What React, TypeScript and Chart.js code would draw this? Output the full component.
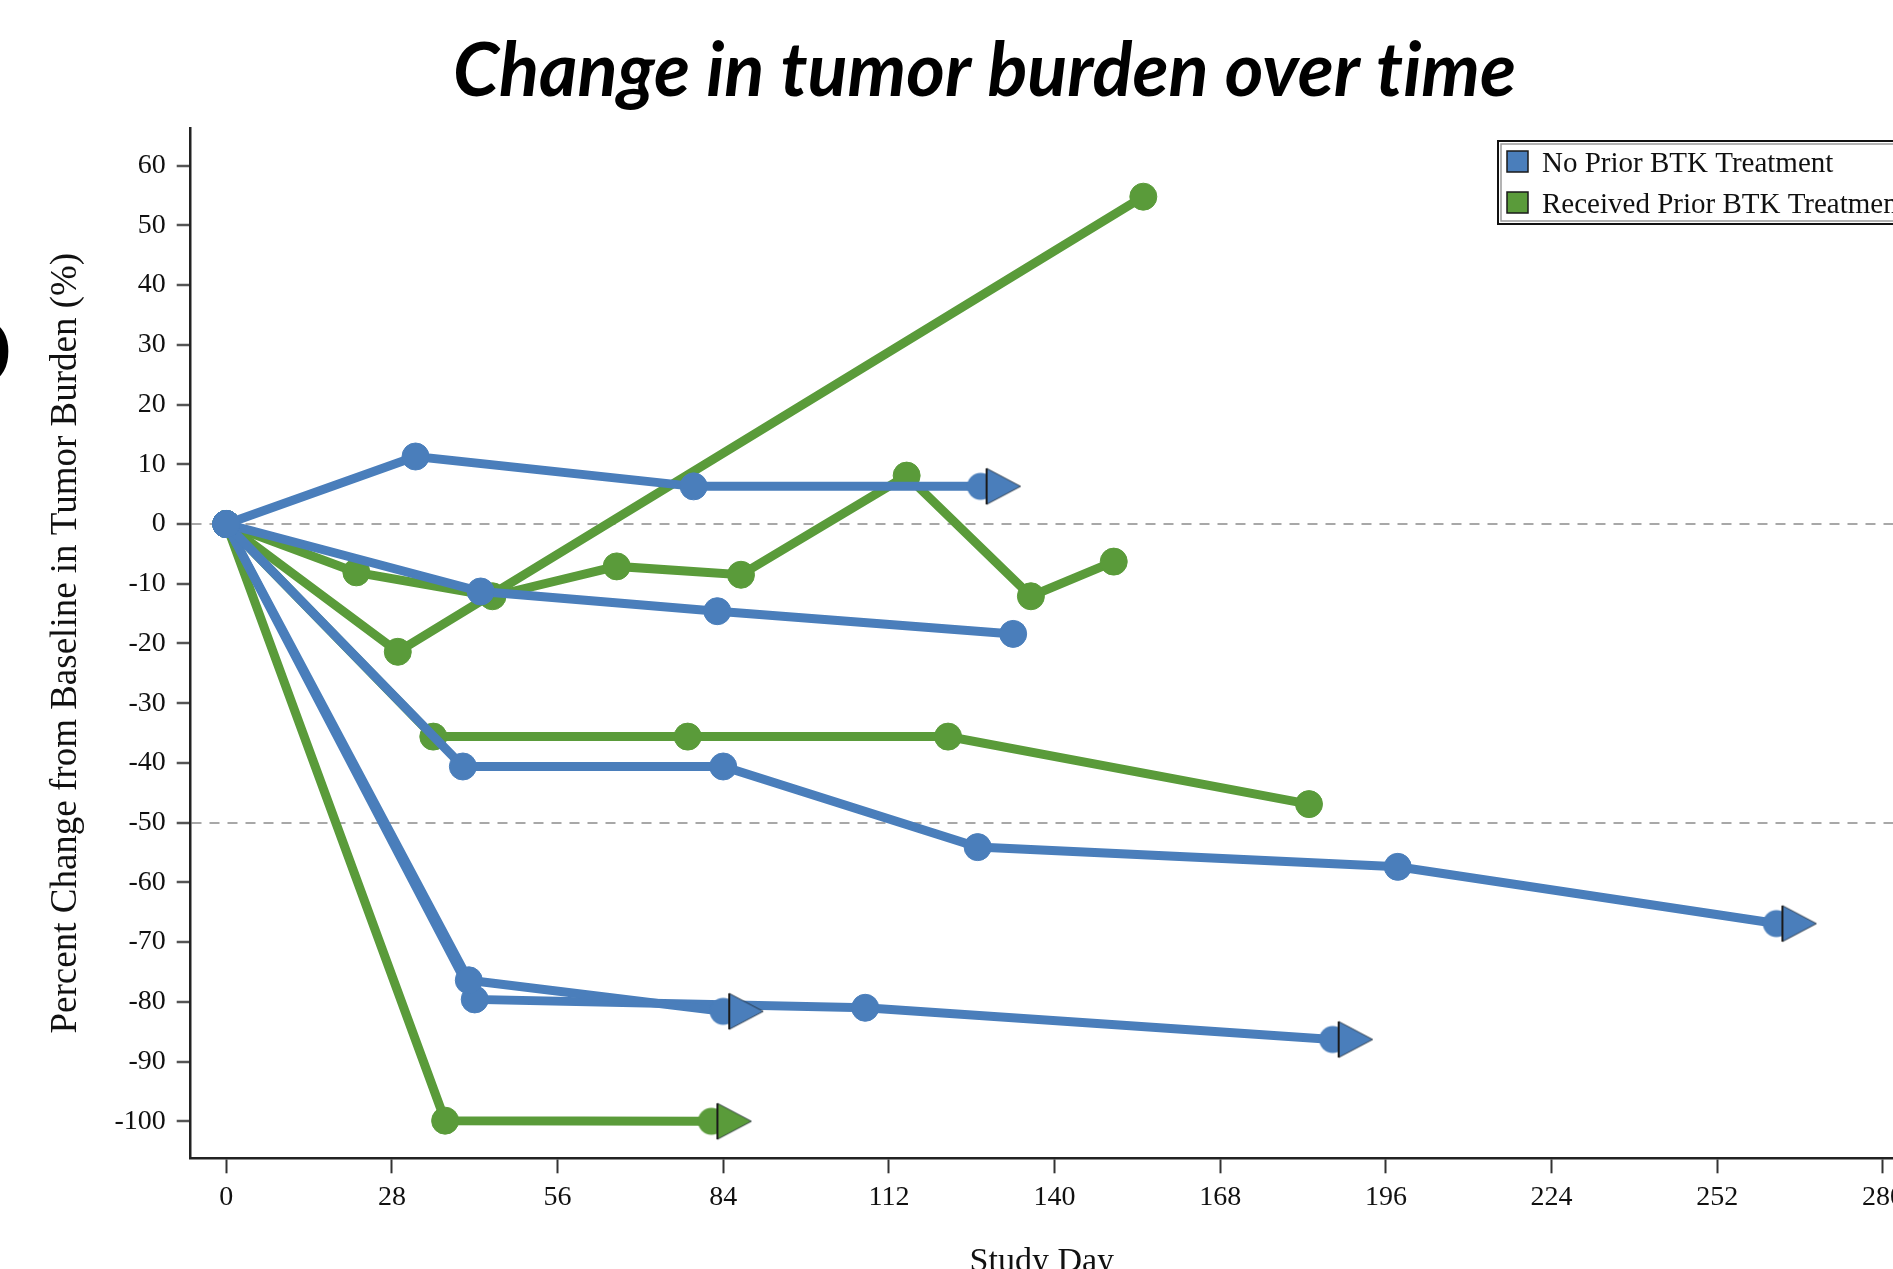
import React, { useEffect, useRef } from "react";
import { Chart, registerables } from "chart.js";

Chart.register(...registerables);

// ---------- data ----------
const chartTitle = "Change in tumor burden over time";
const yAxisTitle = "Percent Change from Baseline in Tumor Burden (%)";
const xAxisTitle = "Study Day";
const legendLabels = ["No Prior BTK Treatment", "Received Prior BTK Treatment"];

const xTicks = [0, 28, 56, 84, 112, 140, 168, 196, 224, 252, 280];
const yTicks = [60, 50, 40, 30, 20, 10, 0, -10, -20, -30, -40, -50, -60, -70, -80, -90, -100];
const refLines = [0, -50];
const xMin = -6;
const xMax = 281.7;
const yMin = -106.2;
const yMax = 66.3;

// No prior BTK treatment (blue)
const b1Days = [0, 32, 79, 127.5];
const b1Pct = [0, 11.3, 6.3, 6.3];
const b2Days = [0, 43, 83, 133];
const b2Pct = [0, -11.3, -14.6, -18.4];
const b3Days = [0, 40, 84, 127, 198, 262];
const b3Pct = [0, -40.6, -40.6, -54.1, -57.4, -66.9];
const b4Days = [0, 41, 84];
const b4Pct = [0, -76.4, -81.6];
const b5Days = [0, 42, 108, 187];
const b5Pct = [0, -79.6, -81.0, -86.3];

// Received prior BTK treatment (green)
const g1Days = [0, 29, 155];
const g1Pct = [0, -21.4, 54.8];
const g2Days = [0, 22, 45, 66, 87, 115, 136, 150];
const g2Pct = [0, -8.1, -12.1, -7.1, -8.5, 8.1, -12.1, -6.3];
const g3Days = [0, 35, 78, 122, 183];
const g3Pct = [0, -35.6, -35.6, -35.6, -46.9];
const g4Days = [0, 37, 82];
const g4Pct = [0, -99.9, -100];

// group: 0 = no prior, 1 = received prior ; ongoing = ends with arrow
const seriesList = [
  { days: b1Days, pct: b1Pct, group: 0, ongoing: true },
  { days: b2Days, pct: b2Pct, group: 0, ongoing: false },
  { days: b3Days, pct: b3Pct, group: 0, ongoing: true },
  { days: b4Days, pct: b4Pct, group: 0, ongoing: true },
  { days: b5Days, pct: b5Pct, group: 0, ongoing: true },
  { days: g1Days, pct: g1Pct, group: 1, ongoing: false },
  { days: g2Days, pct: g2Pct, group: 1, ongoing: false },
  { days: g3Days, pct: g3Pct, group: 1, ongoing: false },
  { days: g4Days, pct: g4Pct, group: 1, ongoing: true },
];

const groupColors = ["#4a7ebb", "#5a9b3a"];

// ---------- helpers ----------
function makeArrow(color: string): HTMLCanvasElement {
  const c = document.createElement("canvas");
  const half = 44;
  c.width = half * 2;
  c.height = 40;
  const g = c.getContext("2d")!;
  const cx = half;
  const cy = 20;
  g.fillStyle = color;
  g.beginPath();
  g.arc(cx, cy, 13.5, 0, Math.PI * 2);
  g.fill();
  g.beginPath();
  g.moveTo(cx + 6, cy - 18);
  g.lineTo(cx + 40, cy);
  g.lineTo(cx + 6, cy + 18);
  g.closePath();
  g.fill();
  g.lineWidth = 1;
  g.strokeStyle = "rgba(30,40,50,0.8)";
  g.stroke();
  g.lineWidth = 2;
  g.strokeStyle = "#1a1a1a";
  g.beginPath();
  g.moveTo(cx + 6, cy - 18);
  g.lineTo(cx + 6, cy + 18);
  g.stroke();
  return c;
}

const textModePlugin = {
  id: "textMode",
  beforeDraw(chart: any) {
    (chart.ctx as any).textRendering = "optimizeSpeed";
  },
};

const legendPlugin = {
  id: "boxLegend",
  afterDraw(chart: any) {
    const ctx = chart.ctx as CanvasRenderingContext2D;
    const area = chart.chartArea;
    const x0 = chart.width - 395;
    const y0 = area.top + 13;
    const h = 83;
    const w = 500;
    ctx.save();
    ctx.fillStyle = "#ffffff";
    ctx.fillRect(x0, y0, w, h);
    ctx.strokeStyle = "#9a9a9a";
    ctx.lineWidth = 1.5;
    ctx.strokeRect(x0 + 3, y0 + 3, w, h - 6);
    ctx.strokeStyle = "#111";
    ctx.lineWidth = 2;
    ctx.strokeRect(x0, y0, w, h);
    ctx.font = '29px "Liberation Serif"';
    ctx.textBaseline = "alphabetic";
    ctx.textAlign = "left";
    legendLabels.forEach((label, i) => {
      const sy = y0 + 10 + i * 41;
      ctx.fillStyle = groupColors[i];
      ctx.fillRect(x0 + 9, sy, 21, 21);
      ctx.strokeStyle = "#1a1a1a";
      ctx.lineWidth = 1.5;
      ctx.strokeRect(x0 + 9, sy, 21, 21);
      ctx.fillStyle = "#111";
      ctx.fillText(label, x0 + 44, sy + 21);
    });
    ctx.restore();
  },
};

const panelLetterPlugin = {
  id: "panelLetter",
  afterDraw(chart: any) {
    const ctx = chart.ctx as CanvasRenderingContext2D;
    ctx.save();
    ctx.font = 'bold 98px "Open Sans"';
    ctx.fillStyle = "#000";
    ctx.textAlign = "right";
    ctx.textBaseline = "alphabetic";
    ctx.fillText("D", 14, 387);
    ctx.restore();
  },
};

const noPad = () => ({ left: 0, top: 0, right: 0, bottom: 0 });

export default function App() {
  const ref = useRef<HTMLCanvasElement | null>(null);

  useEffect(() => {
    document.body.style.margin = "0";
    document.body.style.overflow = "hidden";
    const canvas = ref.current;
    if (!canvas) return;
    const arrows = groupColors.map((c) => makeArrow(c));

    const datasets = seriesList.map((s, si) => {
      const color = groupColors[s.group];
      const last = s.days.length - 1;
      return {
        label: legendLabels[s.group] + " " + si,
        data: s.days.map((d, i) => ({ x: d, y: s.pct[i] })),
        borderColor: color,
        backgroundColor: color,
        borderWidth: 9,
        tension: 0,
        pointRadius: 13.5,
        pointBorderWidth: 1,
        pointBackgroundColor: color,
        pointBorderColor: color,
        pointStyle: (ctx: any) =>
          s.ongoing && ctx.dataIndex === last ? arrows[s.group] : "circle",
      };
    });

    const serif = "Liberation Serif";
    const chart = new Chart(canvas, {
      type: "line",
      data: { datasets: datasets as any },
      plugins: [textModePlugin, legendPlugin, panelLetterPlugin],
      options: {
        animation: false,
        responsive: true,
        maintainAspectRatio: false,
        layout: { autoPadding: false, padding: { left: 76, right: 0, top: 0, bottom: 0 } },
        plugins: {
          legend: { display: false },
          tooltip: { enabled: false },
          title: {
            display: true,
            text: chartTitle,
            color: "#000",
            font: { family: "Lato", size: 74, weight: "bold", style: "italic" },
            padding: { top: 27.3, bottom: 11.9 },
          },
        },
        scales: {
          x: {
            type: "linear",
            min: xMin,
            max: xMax,
            afterBuildTicks: (s: any) => {
              s.ticks = xTicks.map((v) => ({ value: v }));
            },
            afterFit: (s: any) => {
              s.height = 110.7;
              s.paddingLeft = 0;
              s.paddingRight = 0;
              s.getPadding = noPad;
            },
            ticks: {
              autoSkip: false,
              maxRotation: 0,
              padding: 8,
              color: "#111",
              font: { family: serif, size: 28 },
            },
            grid: {
              drawOnChartArea: false,
              drawTicks: true,
              tickLength: 15,
              tickWidth: 2,
              tickColor: "#333",
            },
            border: { display: true, color: "#222", width: 2.5 },
            title: {
              display: true,
              text: xAxisTitle,
              color: "#111",
              font: { family: serif, size: 34 },
              padding: { top: 0, bottom: -13 },
            },
          },
          y: {
            type: "linear",
            min: yMin,
            max: yMax,
            afterBuildTicks: (s: any) => {
              s.ticks = yTicks.map((v) => ({ value: v }));
            },
            afterFit: (s: any) => {
              s.width = 190.7 - 76;
              s.paddingTop = 0;
              s.paddingBottom = 0;
              s.getPadding = noPad;
            },
            ticks: {
              padding: 11,
              color: "#111",
              font: { family: serif, size: 28 },
            },
            grid: {
              drawOnChartArea: true,
              color: (ctx: any) =>
                ctx.tick && refLines.includes(ctx.tick.value) ? "#a8a8a8" : "rgba(0,0,0,0)",
              lineWidth: 2,
              drawTicks: true,
              tickLength: 14,
              tickWidth: 2.5,
              tickColor: "#555",
              tickBorderDash: [],
            },
            border: { display: true, color: "#222", width: 2.5, dash: [10, 8] },
            title: {
              display: true,
              text: yAxisTitle,
              color: "#111",
              font: { family: serif, size: 37 },
              padding: { top: -32, bottom: 0 },
            },
          },
        },
      },
    });
    return () => chart.destroy();
  }, []);

  return (
    <div style={{ width: 1893, height: 1269, position: "relative" }}>
      <canvas ref={ref} />
    </div>
  );
}
